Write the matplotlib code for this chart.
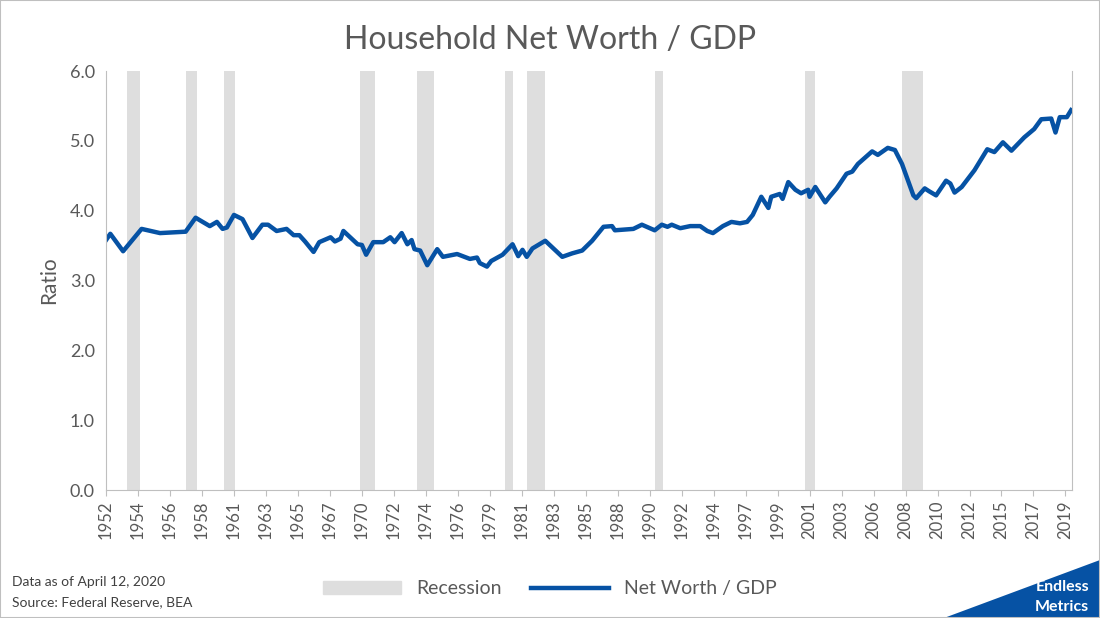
import matplotlib
matplotlib.use("Agg")
import matplotlib.pyplot as plt
from matplotlib.patches import Polygon, Rectangle
from matplotlib.lines import Line2D

plt.rcParams['font.family'] = ['Lato', 'DejaVu Sans']

years = [1952.0,1952.3,1953.2,1954.5,1955.8,1957.6,1958.3,1959.3,1959.8,1960.2,1960.5,1961.0,1961.6,1962.3,1963.0,1963.4,
         1964.0,1964.7,1965.2,1965.6,1966.0,1966.6,1967.0,1967.8,1968.1,1968.5,1968.7,1969.7,1970.0,1970.3,1970.8,1971.5,
         1972.0,1972.3,1972.8,1973.2,1973.5,1973.7,1974.1,1974.6,1975.3,1975.7,1976.7,1977.6,1978.1,1978.3,1978.8,1979.1,
         1979.9,1980.6,1981.0,1981.3,1981.6,1982.0,1982.9,1984.1,1984.8,1985.5,1986.2,1987.0,1987.6,1987.8,1989.1,1989.7,
         1990.6,1991.1,1991.5,1991.8,1992.4,1993.1,1993.8,1994.3,1994.7,1995.4,1996.0,1996.6,1997.1,1997.5,1998.1,1998.6,
         1998.8,1999.4,1999.6,2000.0,2000.5,2000.9,2001.4,2001.5,2001.9,2002.6,2002.9,2003.4,2004.1,2004.5,2004.9,2005.9,
         2006.3,2007.0,2007.5,2008.0,2008.8,2009.0,2009.6,2009.9,2010.4,2011.1,2011.4,2011.7,2012.2,2013.1,2014.0,2014.5,
         2015.1,2015.7,2016.6,2017.3,2017.8,2018.5,2018.8,2019.1,2019.6,2019.9]
ratio = [3.58,3.67,3.42,3.74,3.68,3.70,3.90,3.78,3.84,3.74,3.76,3.94,3.88,3.61,3.80,3.80,
         3.71,3.74,3.65,3.65,3.56,3.41,3.55,3.62,3.56,3.60,3.71,3.52,3.51,3.37,3.55,3.55,
         3.62,3.55,3.68,3.52,3.58,3.45,3.43,3.22,3.45,3.34,3.38,3.31,3.33,3.25,3.20,3.28,
         3.37,3.52,3.35,3.44,3.34,3.46,3.57,3.34,3.39,3.43,3.57,3.77,3.78,3.72,3.74,3.80,
         3.72,3.80,3.77,3.80,3.75,3.78,3.78,3.71,3.68,3.78,3.84,3.82,3.84,3.94,4.20,4.04,
         4.20,4.24,4.17,4.41,4.30,4.25,4.30,4.20,4.34,4.12,4.20,4.32,4.53,4.56,4.67,4.85,
         4.80,4.90,4.87,4.67,4.22,4.18,4.32,4.28,4.22,4.43,4.39,4.26,4.34,4.58,4.88,4.84,
         4.98,4.86,5.05,5.17,5.31,5.32,5.12,5.34,5.34,5.44]
recessions = [(1953.5,1954.4),(1957.6,1958.4),(1960.3,1961.1),(1969.9,1970.9),(1973.9,1975.1),
              (1980.1,1980.6),(1981.6,1982.9),(1990.6,1991.2),(2001.2,2001.9),(2008.0,2009.5)]
tick_years = [1952 + 9*k/4 for k in range(31)]
tick_labels = [str(int(y)) for y in tick_years]

gray = "#595959"
fig = plt.figure(figsize=(11, 6.18), dpi=100)
ax = fig.add_axes([0.0964, 0.207, 0.878, 0.678])
for a, b in recessions:
    ax.axvspan(a, b, color="#dedede", lw=0)
ax.plot(years, ratio, color="#0652a4", lw=3.2, solid_joinstyle="round")
ax.set_xlim(1952.0, 2019.95)
ax.set_ylim(0, 6)
ax.set_yticks([0, 1, 2, 3, 4, 5, 6])
ax.set_yticklabels([f"{v:.1f}" for v in range(7)], fontsize=13, color=gray)
ax.set_xticks(tick_years)
ax.set_xticklabels(tick_labels, rotation=90, fontsize=12, color=gray)
ax.tick_params(axis="y", length=0, pad=8)
ax.tick_params(axis="x", length=4, color="#bfbfbf")
ax.spines["top"].set_visible(False)
for s in ["left", "bottom", "right"]:
    ax.spines[s].set_color("#bfbfbf")
ax.set_ylabel("Ratio", fontsize=15, color=gray, labelpad=8)
fig.text(0.5, 0.935, "Household Net Worth / GDP", ha="center", va="center", fontsize=23, color=gray)

handles = [Rectangle((0, 0), 1, 1, color="#dedede"), Line2D([], [], color="#0652a4", lw=3.2)]
fig.legend(handles, ["Recession", "Net Worth / GDP"], loc="center", bbox_to_anchor=(0.5, 0.047),
           ncol=2, frameon=False, fontsize=14, labelcolor=gray, handlelength=4, columnspacing=1.5)
fig.text(0.011, 0.058, "Data as of April 12, 2020", fontsize=10, color="#404040", va="center")
fig.text(0.011, 0.025, "Source: Federal Reserve, BEA", fontsize=10, color="#404040", va="center")

fig.patches.append(Polygon([[0.858, 0], [1, 0], [1, 0.094]], closed=True, transform=fig.transFigure,
                           facecolor="#0652a4", edgecolor="none"))
fig.text(0.99, 0.05, "Endless", ha="right", va="center", fontsize=11.5, color="white", fontweight="bold")
fig.text(0.99, 0.017, "Metrics", ha="right", va="center", fontsize=11.5, color="white", fontweight="bold")
fig.patches.append(Rectangle((0, 0), 1, 1, transform=fig.transFigure, fill=False, edgecolor="#bfbfbf", lw=1.5))
fig.savefig("out.png", dpi=100)
